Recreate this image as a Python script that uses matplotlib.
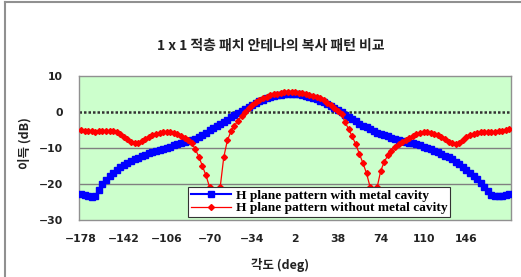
import matplotlib.pyplot as plt
import numpy as np
from matplotlib.lines import Line2D

# angle axis: -178 .. 182 deg, 3 deg step
angle = np.arange(-178, 183, 3)

# H plane pattern with metal cavity (dB)
with_cavity = [
    -22.7, -23.0, -23.4, -23.6, -23.2, -21.8, -20.0, -18.9, -17.8, -16.9,
    -16.1, -15.4, -14.8, -14.2, -13.6, -13.1, -12.7, -12.3, -11.9, -11.5,
    -11.1, -10.8, -10.5, -10.2, -9.9, -9.6, -9.3, -9.0, -8.7, -8.4,
    -8.1, -7.8, -7.4, -6.9, -6.3, -5.7, -5.1, -4.5, -3.9, -3.3,
    -2.7, -2.1, -1.5, -0.9, -0.3, 0.3, 0.9, 1.4, 2.0, 2.5,
    3.0, 3.4, 3.8, 4.1, 4.4, 4.6, 4.8, 4.9, 5.0, 5.0,
    5.0, 4.9, 4.7, 4.5, 4.2, 3.9, 3.5, 3.1, 2.7, 2.2,
    1.7, 1.1, 0.5, -0.1, -0.7, -1.3, -1.9, -2.6, -3.2, -3.8,
    -4.3, -4.8, -5.3, -5.7, -6.1, -6.4, -6.8, -7.1, -7.4, -7.7,
    -8.0, -8.2, -8.5, -8.7, -9.0, -9.3, -9.6, -9.9, -10.3, -10.7,
    -11.1, -11.6, -12.1, -12.6, -13.1, -13.8, -14.5, -15.2, -16.0, -16.9,
    -17.8, -18.7, -19.6, -20.7, -22.0, -23.1, -23.4, -23.4, -23.3, -23.0,
    -22.7,
]

# H plane pattern without metal cavity (dB)
without_cavity = [
    -5.0, -5.2, -5.3, -5.4, -5.5, -5.4, -5.3, -5.2, -5.2, -5.3,
    -5.6, -6.2, -6.9, -7.6, -8.2, -8.6, -8.5, -8.1, -7.5, -7.0,
    -6.5, -6.1, -5.8, -5.6, -5.5, -5.6, -5.8, -6.2, -6.7, -7.2,
    -7.7, -8.6, -10.3, -12.4, -15.0, -17.6, -20.8, -27.0, -27.0, -20.8,
    -12.5, -7.9, -5.4, -3.8, -2.4, -1.1, 0.0, 1.0, 2.0, 2.7,
    3.3, 3.8, 4.2, 4.6, 4.9, 5.1, 5.3, 5.5, 5.6, 5.6,
    5.5, 5.4, 5.2, 5.0, 4.8, 4.5, 4.2, 3.8, 3.3, 2.6,
    1.9, 1.2, 0.4, -0.6, -2.8, -4.8, -6.8, -9.0, -11.6, -14.2,
    -17.0, -20.8, -27.0, -20.8, -16.3, -13.8, -12.0, -10.7, -9.7, -8.9,
    -8.3, -7.8, -7.2, -6.6, -6.1, -5.8, -5.6, -5.6, -5.8, -6.1,
    -6.5, -7.0, -7.6, -8.2, -8.7, -8.9, -8.5, -7.8, -7.0, -6.5,
    -6.0, -5.7, -5.6, -5.5, -5.5, -5.6, -5.5, -5.4, -5.2, -5.0,
    -4.7,
]

xticks = [-178, -142, -106, -70, -34, 2, 38, 74, 110, 146]
yticks = [-30, -20, -10, 0, 10]
kr = ['Noto Sans CJK KR', 'DejaVu Sans']

fig = plt.figure(figsize=(5.21, 2.77), dpi=100)
ax = fig.add_axes([0.1522, 0.2058, 0.8286, 0.5198])
ax.set_facecolor('#ccffcc')

for y in [-10, -20]:
    ax.axhline(y, color='#808080', lw=1.0, zorder=1)
ax.axhline(0, color='#333333', lw=1.8, ls=(0, (1, 0.8)), zorder=1.5)

ax.plot(angle, with_cavity, color='#0000ff', lw=1.5, marker='s', ms=4.0,
        mec='#0000ff', mfc='#0000ff', zorder=3,
        label='H plane pattern with metal cavity')
ax.plot(angle, without_cavity, color='#ff0000', lw=0.9, marker='D', ms=3.0,
        mec='#ff0000', mfc='#ff0000', zorder=4,
        label='H plane pattern without metal cavity')

ax.set_xlim(-179.5, 183.5)
ax.set_ylim(-30, 10)
ax.set_xticks(xticks)
ax.set_xticklabels([str(t).replace('-', '\u2212') for t in xticks])
ax.set_yticks(yticks)
ax.set_yticklabels([str(t).replace('-', '\u2212') for t in yticks])
ax.tick_params(axis='both', length=0, labelsize=7.8)
ax.tick_params(axis='y', pad=12)
ax.tick_params(axis='x', pad=10)
for lab in ax.get_xticklabels() + ax.get_yticklabels():
    lab.set_fontweight('bold')
    lab.set_color('#222222')
for s in ax.spines.values():
    s.set_color('#909090')
    s.set_linewidth(1.0)

leg = ax.legend(loc='lower left', bbox_to_anchor=(0.252, 0.02), borderaxespad=0,
                prop={'family': 'Liberation Serif', 'weight': 'bold', 'size': 9.6},
                handlelength=3.0, handletextpad=0.4, labelspacing=0.0,
                borderpad=0.2, fancybox=False, framealpha=1, edgecolor='#333333')
leg.get_frame().set_linewidth(0.8)
leg.set_zorder(10)

fig.text(0.52, 0.835, '1 x 1 적층 패치 안테나의 복사 패턴 비교', ha='center', va='center',
         fontsize=10, fontweight='bold', family=kr, color='#222222')
fig.text(0.048, 0.484, '이득 (dB)', rotation=90, ha='center', va='center',
         fontsize=9, fontweight='bold', family=kr, color='#222222')
fig.text(0.537, 0.043, '각도 (deg)', ha='center', va='center',
         fontsize=9, fontweight='bold', family=kr, color='#222222')

# outer chart border
fig.add_artist(Line2D([5 / 521, 5 / 521], [0, 1 - 2 / 277], color='#909090', lw=1.5))
fig.add_artist(Line2D([5 / 521, 1], [1 - 2 / 277, 1 - 2 / 277], color='#909090', lw=1.5))

fig.savefig('out.png', dpi=100)
